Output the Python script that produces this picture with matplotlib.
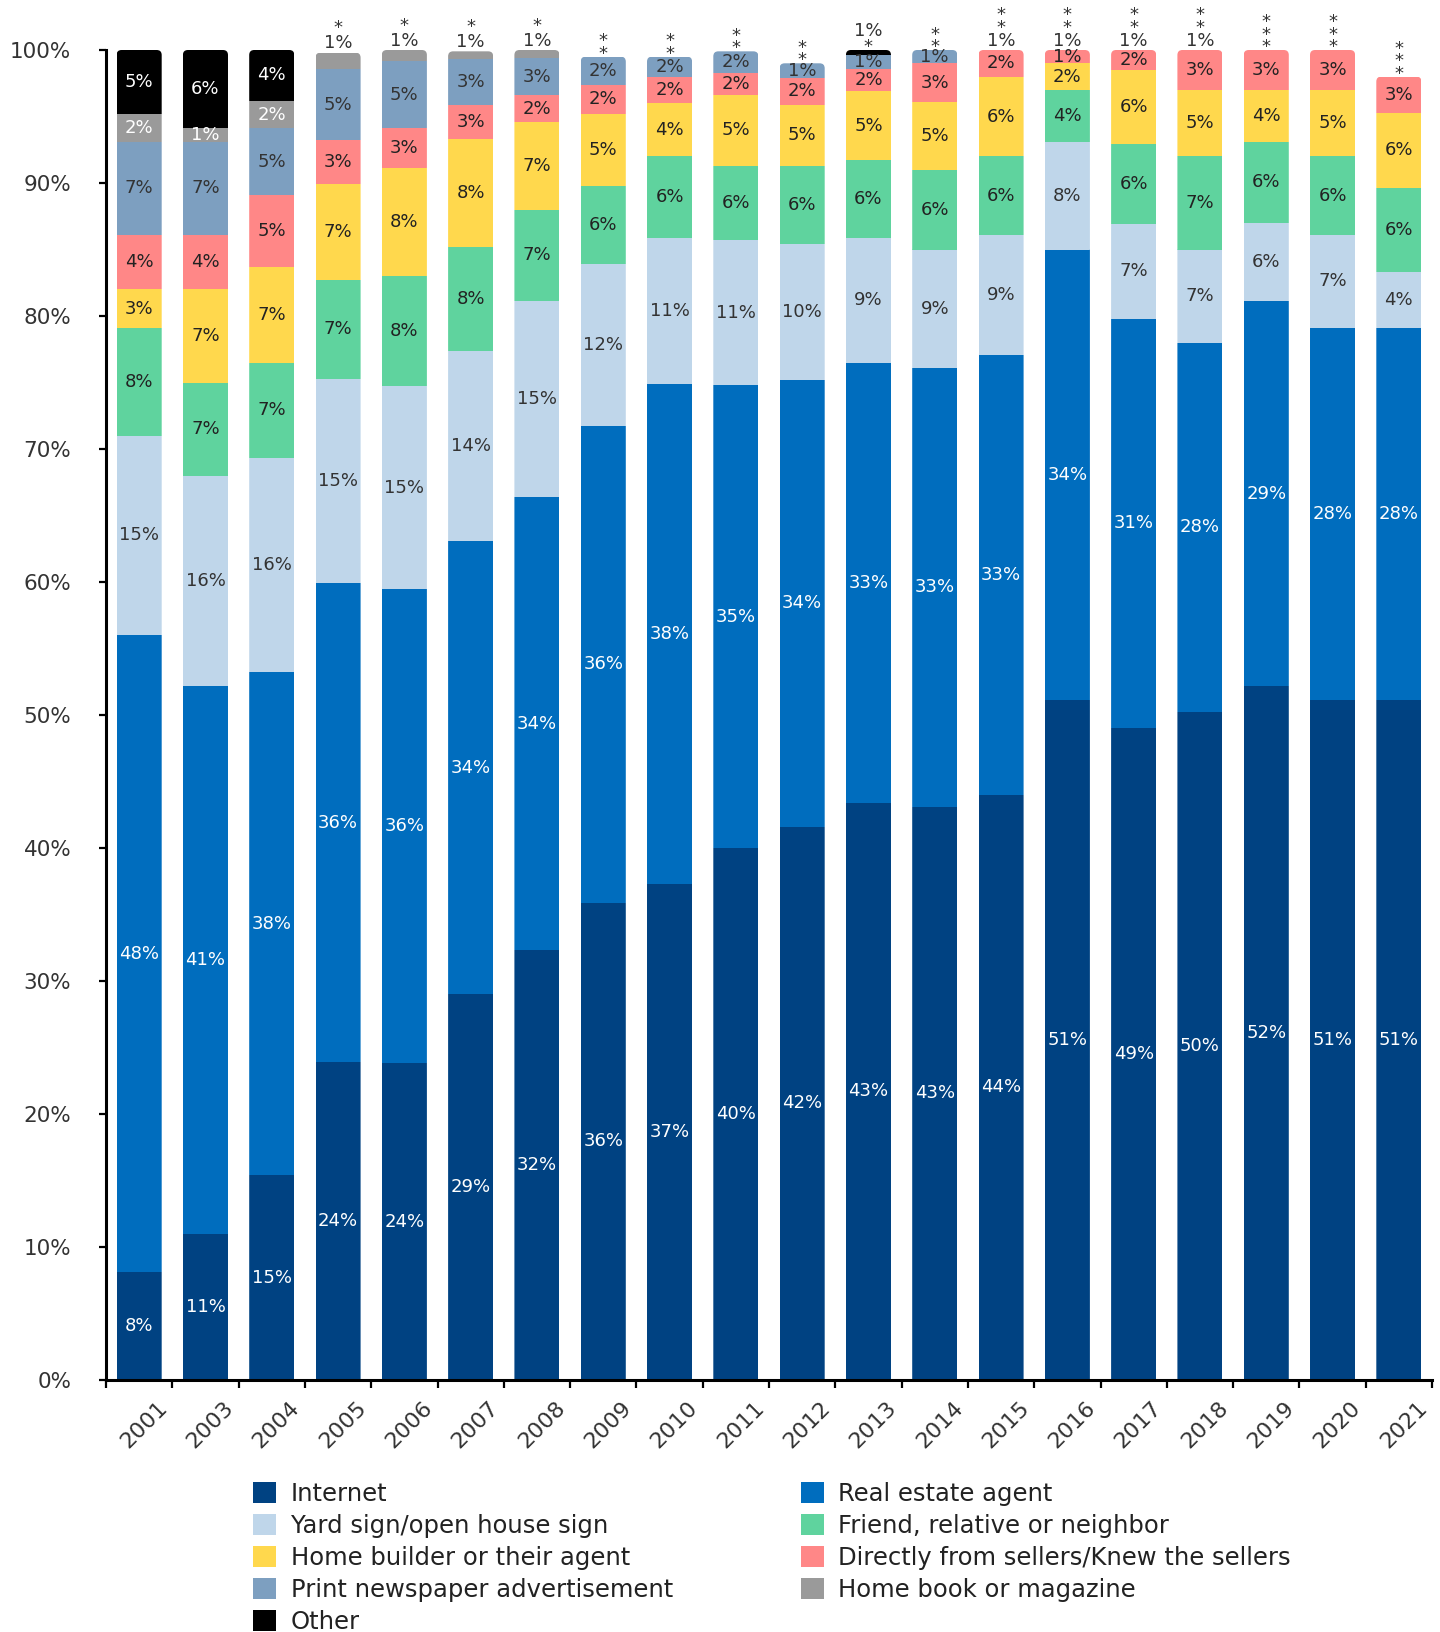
import matplotlib
matplotlib.use('Agg')
import matplotlib.pyplot as plt
from matplotlib.patches import FancyBboxPatch, Patch
from matplotlib.transforms import ScaledTranslation
import numpy as np

plt.rcParams['font.family'] = ['DejaVu Sans']

years = ['2001', '2003', '2004', '2005', '2006', '2007', '2008', '2009', '2010', '2011',
         '2012', '2013', '2014', '2015', '2016', '2017', '2018', '2019', '2020', '2021']

categories = ['Internet', 'Real estate agent', 'Yard sign/open house sign',
              'Friend, relative or neighbor', 'Home builder or their agent',
              'Directly from sellers/Knew the sellers', 'Print newspaper advertisement',
              'Home book or magazine', 'Other']

internet = [8.1, 11.0, 15.4, 23.9, 23.8, 29.0, 32.3, 35.9, 37.3, 40.0,
            41.6, 43.4, 43.1, 44.0, 51.1, 49.0, 50.2, 52.2, 51.1, 51.1]
real_estate = [47.9, 41.2, 37.8, 36.0, 35.7, 34.1, 34.1, 35.8, 37.6, 34.8,
               33.6, 33.1, 33.0, 33.1, 33.9, 30.8, 27.8, 28.9, 28.0, 28.0]
yard_sign = [15.0, 15.8, 16.1, 15.4, 15.2, 14.3, 14.7, 12.2, 11.0, 10.9,
             10.2, 9.4, 8.9, 9.0, 8.1, 7.1, 7.0, 5.9, 7.0, 4.2]
friend = [8.1, 7.0, 7.2, 7.4, 8.3, 7.8, 6.9, 5.9, 6.1, 5.6,
          5.9, 5.8, 6.0, 5.9, 3.9, 6.0, 7.0, 6.1, 5.9, 6.3]
builder = [2.9, 7.0, 7.2, 7.2, 8.1, 8.1, 6.6, 5.4, 4.0, 5.3,
           4.6, 5.2, 5.1, 6.0, 2.0, 5.6, 5.0, 3.9, 5.0, 5.7]
sellers = [4.1, 4.1, 5.4, 3.3, 3.0, 2.6, 2.0, 2.2, 2.0, 1.7,
           2.0, 1.7, 2.9, 2.0, 1.0, 1.5, 3.0, 3.0, 3.0, 2.7]
newspaper = [7.0, 7.0, 5.0, 5.4, 5.1, 3.4, 2.8, 2.1, 1.5, 1.6,
             1.1, 1.0, 1.0, 0, 0, 0, 0, 0, 0, 0]
home_book = [2.1, 1.0, 2.1, 1.2, 0.8, 0.6, 0.6, 0, 0, 0,
             0, 0, 0, 0, 0, 0, 0, 0, 0, 0]
other = [4.8, 5.9, 3.8, 0, 0, 0, 0, 0, 0, 0,
         0, 0.4, 0, 0, 0, 0, 0, 0, 0, 0]

# notes printed above each bar (top line first)
notes = ['', '', '', '*\n1%', '*\n1%', '*\n1%', '*\n1%', '*\n*', '*\n*', '*\n*',
         '*\n*', '1%\n*', '*\n*', '*\n*\n1%', '*\n*\n1%', '*\n*\n1%', '*\n*\n1%',
         '*\n*\n*', '*\n*\n*', '*\n*\n*']

series = [internet, real_estate, yard_sign, friend, builder, sellers, newspaper, home_book, other]
colors = ['#004282', '#006DBE', '#BFD6EA', '#5FD39E', '#FFD84D', '#FF8787', '#7D9FC0', '#9A9A9A', '#000000']
text_colors = ['white', 'white', '#333333', '#222222', '#222222', '#222222', '#333333', 'white', 'white']

W, H = 1440, 1632
fig = plt.figure(figsize=(W / 100, H / 100), dpi=100)
ax_l, ax_r, ax_b, ax_t = 106 / W, 1432 / W, 1 - 1380 / H, 1 - 50 / H
ax = fig.add_axes([ax_l, ax_b, ax_r - ax_l, ax_t - ax_b])

n = len(years)
x = np.arange(n)
width = 0.68
ax.set_xlim(-0.5, n - 0.5)
ax.set_ylim(0, 100)

px_per_x = (ax_r - ax_l) * W / n
px_per_y = (ax_t - ax_b) * H / 100
aspect = px_per_x / px_per_y
radius_px = 5

data = np.array(series)
totals = data.sum(axis=0)

clips = []
for i in range(n):
    clip = FancyBboxPatch((x[i] - width / 2, -5), width, totals[i] + 5,
                          boxstyle=f'round,pad=0,rounding_size={radius_px / px_per_x}',
                          mutation_aspect=aspect, transform=ax.transData,
                          facecolor='none', edgecolor='none')
    clips.append(clip)

bottom = np.zeros(n)
for k, vals in enumerate(series):
    vals = np.array(vals, dtype=float)
    bars = ax.bar(x, vals, width=width, bottom=bottom, color=colors[k],
                  linewidth=0, label=categories[k], zorder=2)
    for i, rect in enumerate(bars.patches):
        rect.set_clip_path(clips[i])
        v = vals[i]
        if v < 0.9:
            continue
        if k == 7 and '%' in notes[i]:
            continue
        ax.text(x[i], bottom[i] + v / 2, f'{int(v + 0.5)}%', ha='center', va='center',
                fontsize=13, color=text_colors[k], zorder=4)
    bottom += vals

# notes above bars: one text block per bar
line_px = 19.4  # baseline-to-baseline distance at linespacing 1.0 (13 pt DejaVu)
for i in range(n):
    note = notes[i]
    if not note:
        continue
    lines = note.split('\n')
    if all(t == '*' for t in lines):
        step = 11.5
    elif lines[0] != '*':
        step = 17
    elif len(lines) == 2:
        step = 15
    else:
        step = 12
    bottom_px = -6 if lines[-1] == '*' else 0.5
    ax.annotate(note, xy=(x[i], totals[i]), xytext=(0, bottom_px * 0.72),
                textcoords='offset points', ha='center', va='bottom',
                multialignment='center', linespacing=step / line_px,
                fontsize=13, color='#333333', annotation_clip=False, zorder=5)

# axes styling
for s in ['top', 'right']:
    ax.spines[s].set_visible(False)
ax.spines['left'].set_bounds(0, 100)
ax.spines['left'].set_linewidth(2.2)
ax.spines['bottom'].set_linewidth(2.2)

ax.set_yticks(np.arange(0, 101, 10))
ax.set_yticklabels([f'{v}%' for v in range(0, 101, 10)])
ax.tick_params(axis='y', direction='out', length=5, width=1.6, pad=20,
               labelsize=15.5, labelcolor='#333333')

ax.set_xticks(x)
ax.set_xticklabels(years)
ax.set_xticks(np.arange(-0.5, n, 1), minor=True)
ax.tick_params(axis='x', which='major', length=0, pad=18, labelsize=16, labelcolor='#333333')
ax.tick_params(axis='x', which='minor', direction='out', length=6, width=1.6)
for lbl in ax.get_xticklabels():
    lbl.set_rotation(45)
    lbl.set_rotation_mode('anchor')
    lbl.set_ha('right')
    lbl.set_va('center')
    lbl.set_transform(lbl.get_transform() + ScaledTranslation(0.25, 0, fig.dpi_scale_trans))

# legend (row-major order as in reference)
order = [0, 2, 4, 6, 8, 1, 3, 5, 7]
handles = [Patch(facecolor=colors[k], edgecolor='none') for k in order]
labels = [categories[k] for k in order]
fig.legend(handles, labels, ncol=2, loc='upper left',
           bbox_to_anchor=(253 / W, 1 - 1482 / H), frameon=False,
           fontsize=17.5, handlelength=0.95, handleheight=0.95,
           handletextpad=0.6, columnspacing=5.25, labelspacing=0.33,
           borderpad=0, borderaxespad=0, labelcolor='#222222')

fig.savefig('out.png', dpi=100)
